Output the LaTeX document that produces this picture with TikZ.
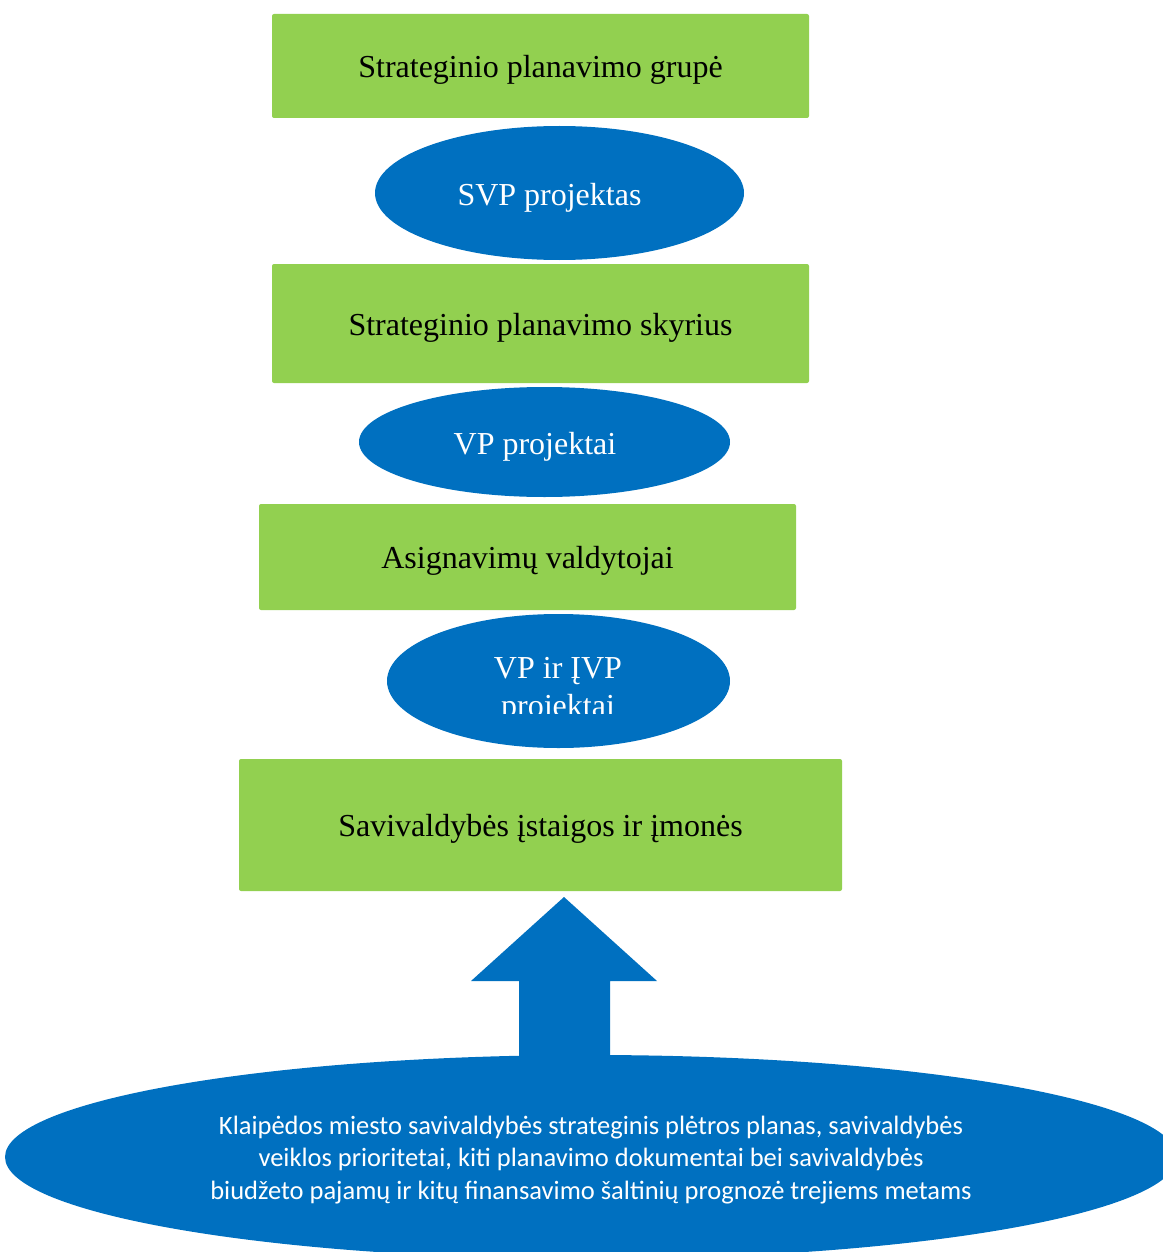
\documentclass[tikz,border=0pt]{standalone}
\usepackage{fontspec}
\setmainfont{Liberation Serif}
\newfontfamily\calibri{Carlito}
\usetikzlibrary{shapes.geometric}
\definecolor{zalia}{HTML}{92D050}
\definecolor{melyna}{HTML}{0070C0}
\begin{document}
\begin{tikzpicture}[x=1pt,y=-1pt,
    dez/.style={fill=zalia,rounded corners=2pt,inner sep=0pt,text height=29pt,text depth=6pt,
      font=\fontsize{32}{38}\selectfont},
    elip/.style={ellipse,fill=melyna,inner sep=0pt},
    balt/.style={text=white,align=center,font=\fontsize{32}{38}\selectfont}]
      \useasboundingbox (0,0) rectangle (1162,1252);
      \foreach \n/\x/\y/\w/\h/\t in
      { sg/540.5/66/537/104/{Strateginio planavimo grupė},
        ss/540.5/323.5/537/119/{Strateginio planavimo skyrius},
        av/527.5/557/537/106/{Asignavimų valdytojai},
        si/540.5/825/603/132/{Savivaldybės įstaigos ir įmonės}
      }
      \node[dez,minimum width=\w pt,minimum height=\h pt] (\n) at (\x,\y) {\t};
      \foreach \n/\x/\y/\w/\h in
      { e1/559.5/193/369/134,
        e2/544.5/442/371/110,
        e3/558.5/681/343/134,
        e4/591/1157/1172/204
      }
      \node[elip,minimum width=\w pt,minimum height=\h pt] (\n) at (\x,\y) {};
      \node[balt] (svp) at (549.5,198) {SVP projektas};
      \node[balt] (vp) at (535,447) {VP projektai};
      \begin{scope}
        \clip (380,600) rectangle (740,713);
        \node[balt] (ivp) at (558,690) {VP ir ĮVP\\projektai};
      \end{scope}
      % rodykle i virsu
      \fill[melyna] (519,1060) -- (519,981) -- (471,981) -- (564,897)
        -- (657,981) -- (610,981) -- (610,1060) -- cycle;
      \node[text=white,align=center,font=\calibri\fontsize{26.5}{32.5}\selectfont] (planai) at (591,1160)
        {Klaipėdos miesto savivaldybės strateginis plėtros planas, savivaldybės\\
         veiklos prioritetai, kiti planavimo dokumentai bei savivaldybės\\
         biudžeto pajamų ir kitų finansavimo šaltinių prognozė trejiems metams};
    \end{tikzpicture}
\end{document}
